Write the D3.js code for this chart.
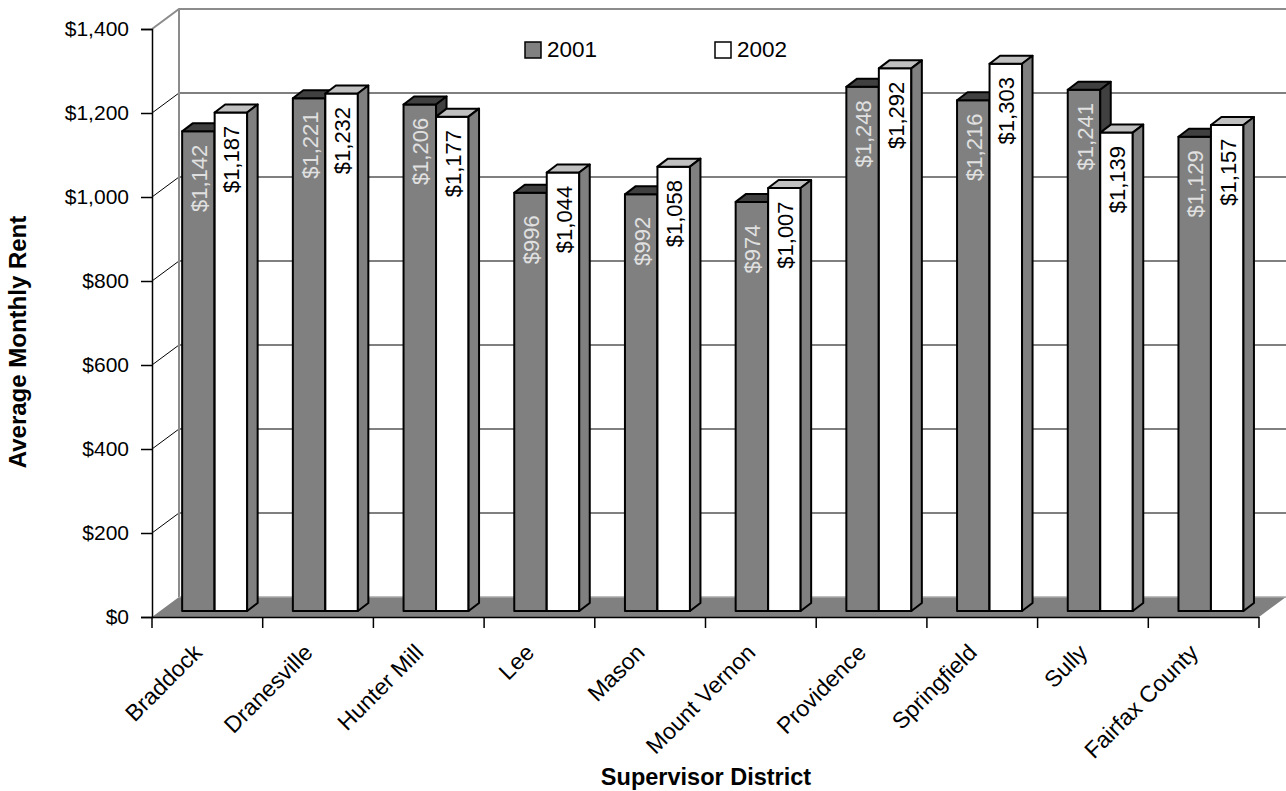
<!DOCTYPE html>
<html>
<head>
<meta charset="utf-8">
<script src="https://cdn.jsdelivr.net/npm/d3@7"></script>
<style>
  html, body { margin: 0; padding: 0; background: #fff; }
  svg { display: block; }
  text { font-family: Arial, "Liberation Sans", sans-serif; }
</style>
</head>
<body>
<svg id="chart" width="1286" height="791"></svg>
<script>
// Average monthly rent by supervisor district
const districts = ["Braddock", "Dranesville", "Hunter Mill", "Lee", "Mason",
  "Mount Vernon", "Providence", "Springfield", "Sully", "Fairfax County"];
const rent2001 = [1142, 1221, 1206, 996, 992, 974, 1248, 1216, 1241, 1129];
const rent2002 = [1187, 1232, 1177, 1044, 1058, 1007, 1292, 1303, 1139, 1157];
const seriesNames = ["2001", "2002"];
const yTicks = [0, 200, 400, 600, 800, 1000, 1200, 1400];

const svg = d3.select("#chart");

// front plane of the 3-D box
const x = d3.scaleBand().domain(districts).range([152, 1259]);
const y = d3.scaleLinear().domain([0, 1400]).range([617, 29]);

// oblique depth offsets
const wall = { dx: 27, dy: -20 };      // back wall relative to front plane
const barFront = { dx: 7.3, dy: -6 };  // bar front faces
const barDepth = { dx: 10.5, dy: -8 }; // bar thickness
const barW = 32.5;

const fmt = d3.format("$,.0f");
const left = x.range()[0], right = x.range()[1];
const y0 = y(0), yTop = y(1400);

// back wall
const wallG = svg.append("g");
wallG.append("rect")
  .attr("x", left + wall.dx).attr("y", yTop + wall.dy)
  .attr("width", 1286 - left - wall.dx).attr("height", y0 - yTop)
  .attr("fill", "#fff");

// gridlines on back wall and side wall
yTicks.filter(v => v > 0 && v < 1400).forEach(v => {
  wallG.append("line")
    .attr("x1", left + wall.dx).attr("x2", 1286)
    .attr("y1", y(v) + wall.dy).attr("y2", y(v) + wall.dy)
    .attr("stroke", "#000").attr("stroke-width", 1);
  wallG.append("line")
    .attr("x1", left).attr("y1", y(v))
    .attr("x2", left + wall.dx).attr("y2", y(v) + wall.dy)
    .attr("stroke", "#000").attr("stroke-width", 1);
});

// wall borders (gray)
wallG.append("path")
  .attr("d", `M${left},${yTop} L${left + wall.dx},${yTop + wall.dy} L1286,${yTop + wall.dy}`)
  .attr("fill", "none").attr("stroke", "#8c8c8c").attr("stroke-width", 2);
wallG.append("line")
  .attr("x1", left + wall.dx).attr("x2", left + wall.dx)
  .attr("y1", yTop + wall.dy).attr("y2", y0 + wall.dy)
  .attr("stroke", "#8c8c8c").attr("stroke-width", 2);

// floor
svg.append("path")
  .attr("d", `M${left},${y0} L${right},${y0} L${right + wall.dx},${y0 + wall.dy} L${left + wall.dx},${y0 + wall.dy} Z`)
  .attr("fill", "#808080");
svg.append("line")
  .attr("x1", left + wall.dx).attr("x2", right + wall.dx)
  .attr("y1", y0 + wall.dy).attr("y2", y0 + wall.dy)
  .attr("stroke", "#a8a8a8").attr("stroke-width", 1.5);

// y axis (front edge of side wall)
const yAxis = d3.axisLeft(y).tickValues(yTicks).tickFormat(fmt).tickSize(11).tickPadding(12);
const yAxisG = svg.append("g").attr("transform", `translate(${left},0)`).call(yAxis);
yAxisG.attr("font-size", null).attr("font-family", null);
yAxisG.select(".domain").attr("stroke", "#000").attr("stroke-width", 1.5);
yAxisG.selectAll(".tick line").attr("stroke", "#000").attr("stroke-width", 1.5);
yAxisG.selectAll(".tick text")
  .attr("font-size", 21).attr("fill", "#000");

// x axis (front edge of floor)
const xAxis = d3.axisBottom(x).tickSize(11).tickFormat("");
const xAxisG = svg.append("g").attr("transform", `translate(0,${y0})`).call(xAxis);
xAxisG.select(".domain").attr("d", `M${left},0.5H${right}`).attr("stroke", "#000").attr("stroke-width", 1.5);
// ticks on the band boundaries instead of centres
xAxisG.selectAll(".tick").remove();
d3.range(districts.length + 1).forEach(i => {
  const xx = left + i * x.bandwidth();
  xAxisG.append("line").attr("x1", xx).attr("x2", xx).attr("y1", 0).attr("y2", 11)
    .attr("stroke", "#000").attr("stroke-width", 1.5);
});

// category labels, rotated
svg.append("g").selectAll("text").data(districts).join("text")
  .attr("transform", d => `translate(${x(d) + x.bandwidth() / 2 - 4},654) rotate(-45)`)
  .attr("text-anchor", "end")
  .attr("font-size", 23)
  .attr("fill", "#000")
  .text(d => d);

// bars
const styles = [
  { front: "#808080", top: "#404040", side: "#404040", label: "#e0e0e0" },
  { front: "#ffffff", top: "#c0c0c0", side: "#808080", label: "#000000" }
];
const series = [rent2001, rent2002];
const barsG = svg.append("g");
const bars = [];
districts.forEach((d, i) => {
  const cx = x(d) + x.bandwidth() / 2 + barFront.dx;
  series.forEach((vals, s) => {
    const x1 = cx + (s === 0 ? -barW : 0);
    const x2 = x1 + barW;
    const yb = y(0) + barFront.dy;
    const yt = y(vals[i]) + barFront.dy;
    const st = styles[s];
    const g = barsG.append("g")
      .attr("stroke", "#000").attr("stroke-width", 2).attr("stroke-linejoin", "round");
    g.append("path")
      .attr("d", `M${x1},${yb} L${x1},${yt} L${x2},${yt} L${x2},${yb} Z`)
      .attr("fill", st.front);
    g.append("path")
      .attr("d", `M${x1},${yt} L${x1 + barDepth.dx},${yt + barDepth.dy} L${x2 + barDepth.dx},${yt + barDepth.dy} L${x2},${yt} Z`)
      .attr("fill", st.top);
    g.append("path")
      .attr("d", `M${x2},${yt} L${x2 + barDepth.dx},${yt + barDepth.dy} L${x2 + barDepth.dx},${yb + barDepth.dy} L${x2},${yb} Z`)
      .attr("fill", st.side);
    bars.push({ cx: (x1 + x2) / 2, yt, v: vals[i], color: st.label });
  });
});

// value labels inside bars
svg.append("g").selectAll("text").data(bars).join("text")
  .attr("transform", b => `translate(${b.cx + 8.5},${b.yt + 47}) rotate(-90)`)
  .attr("text-anchor", "middle")
  .attr("font-size", 22)
  .attr("fill", b => b.color)
  .text(b => fmt(b.v));

// legend
const legendX = [525, 715];
const legend = svg.append("g");
seriesNames.forEach((name, s) => {
  legend.append("rect")
    .attr("x", legendX[s]).attr("y", 42).attr("width", 16).attr("height", 16)
    .attr("fill", styles[s].front).attr("stroke", "#000").attr("stroke-width", 1.5);
  legend.append("text")
    .attr("x", legendX[s] + 22).attr("y", 57)
    .attr("font-size", 22.5).attr("fill", "#000")
    .text(name);
});

// axis titles
svg.append("text")
  .attr("transform", "translate(26,342) rotate(-90)")
  .attr("text-anchor", "middle")
  .attr("font-size", 24).attr("font-weight", "bold")
  .text("Average Monthly Rent");
svg.append("text")
  .attr("x", 706).attr("y", 785)
  .attr("text-anchor", "middle")
  .attr("font-size", 23.5).attr("font-weight", "bold")
  .text("Supervisor District");
</script>
</body>
</html>
